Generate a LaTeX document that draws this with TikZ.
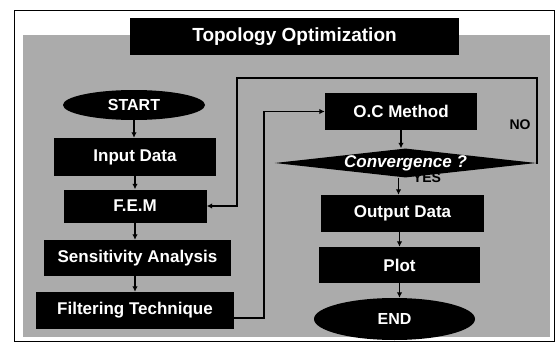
\documentclass[tikz,border=0pt]{standalone}
\usepackage{fontspec}
\setmainfont{Liberation Sans}
\usetikzlibrary{shapes.geometric,arrows.meta}
\begin{document}
\begin{tikzpicture}[x=1pt,y=-1pt,
  blk/.style={rectangle,fill=black,text=white,inner sep=0pt,font=\bfseries\fontsize{17}{20}\selectfont},
  term/.style={ellipse,fill=black,text=white,inner sep=0pt,font=\bfseries\fontsize{16}{19}\selectfont},
  dec/.style={diamond,aspect=9,fill=black,text=white,inner sep=0pt,font=\bfseries\itshape\fontsize{17}{20}\selectfont},
  flow/.style={draw=black,line width=1.5pt,-{Latex[length=5.5pt,width=5.5pt]}},
  lbl/.style={inner sep=0pt,text=black,font=\bfseries\fontsize{14}{16}\selectfont}]
\useasboundingbox (0,0) rectangle (560,356);
\fill[white] (0,0) rectangle (560,356);
\draw[line width=1pt] (14,10) rectangle (554,341);
\fill[black!33] (23,35) rectangle (550,337);
% title
\node[blk,minimum width=329pt,minimum height=37pt,font=\bfseries\fontsize{19}{22}\selectfont] (title) at (294.5,36.5) {Topology Optimization};
% left column
\node[term,minimum width=142pt,minimum height=30pt] (start) at (134,105) {START};
\node[blk,minimum width=162pt,minimum height=38pt] (inp) at (135,157) {Input Data};
\node[blk,minimum width=143pt,minimum height=33pt] (fem) at (135,206) {F.E.M};
\node[blk,minimum width=187pt,minimum height=36pt] (sens) at (137.5,258) {Sensitivity Analysis};
\node[blk,minimum width=198pt,minimum height=37pt] (filt) at (135,310.5) {Filtering Technique};
% right column
\node[blk,minimum width=152pt,minimum height=37pt] (oc) at (401,111.5) {O.C Method};
\node[dec,minimum width=257pt,minimum height=28pt] (conv) at (405.5,163) {Convergence ?};
\node[blk,minimum width=163pt,minimum height=37pt] (out) at (402.5,213.5) {Output Data};
\node[blk,minimum width=161pt,minimum height=36pt] (plot) at (399.5,265) {Plot};
\node[term,minimum width=161pt,minimum height=42pt] (end) at (394.5,319) {END};
% labels
\node[lbl] (no) at (520,125) {NO};
\node[lbl] (yes) at (427,178) {YES};
% straight arrows
\draw[flow] (start.south) -- (start.south |- inp.north);
\draw[flow] (inp.south) -- (inp.south |- fem.north);
\draw[flow] (fem.south) -- (fem.south |- sens.north);
\draw[flow] (sens.south -| fem.south) -- (fem.south |- filt.north);
\draw[flow] (oc.south) -- (oc.south |- conv.north);
\draw[flow] ([xshift=-7pt]conv.south) -- ([xshift=-7pt]conv.south |- out.north);
\draw[flow] (out.south -| plot.north) -- (plot.north);
\draw[flow] (plot.south) -- (plot.south |- end.north);
% loops
\coordinate (n1) at (537,78);
\coordinate (n2) at (237,78);
\draw[flow] (conv.east) -| (n1) -- (n2) |- (fem.east);
\coordinate (f1) at (264,318);
\draw[flow] ([yshift=-7.5pt]filt.east) -- (f1) |- (oc.west);
\end{tikzpicture}
\end{document}
